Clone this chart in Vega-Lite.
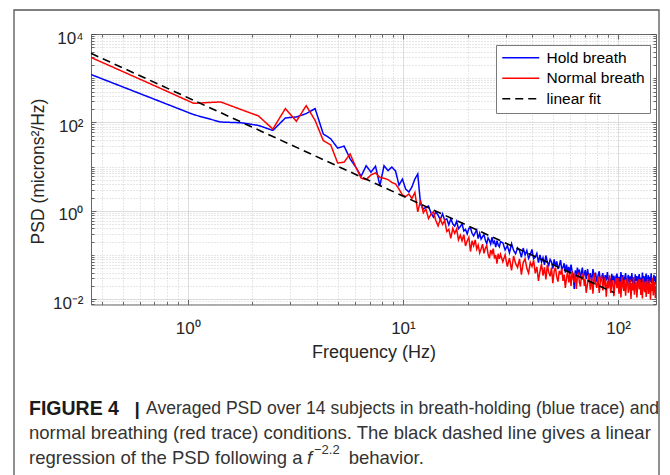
{
  "$schema": "https://vega.github.io/schema/vega-lite/v6.json",
  "width": 565,
  "height": 270.5,
  "autosize": {"type": "none"},
  "padding": {"left": 91, "top": 34, "right": 14, "bottom": 170.5},
  "background": "white",
  "config": {
    "view": {"stroke": null},
    "font": "Liberation Sans",
    "legend": {
      "orient": "none", "legendX": 405, "legendY": 11,
      "strokeColor": "#7a7a7a", "fillColor": "white", "padding": 5,
      "labelFont": "Liberation Sans", "labelFontSize": 15.5, "labelColor": "#000000",
      "symbolType": "M-3.7,0H3.7", "symbolSize": 100, "symbolStrokeWidth": 1.5,
      "symbolOffset": 12, "labelOffset": 18, "rowPadding": 3.5
    }
  },
  "data": {"values": [
    {"f":0.3553,"h":1213,"n":2950},{"f":0.7106,"h":325,"n":658},{"f":1.066,"h":150,"n":270},{"f":1.421,"h":102,"n":291},
    {"f":1.777,"h":98,"n":194},{"f":2.132,"h":85.5,"n":140},{"f":2.487,"h":65.8,"n":70.8},{"f":2.842,"h":126,"n":205},
    {"f":3.198,"h":133,"n":106},{"f":3.553,"h":158,"n":240},{"f":3.908,"h":205,"n":111},{"f":4.264,"h":55,"n":39},
    {"f":4.619,"h":42.6,"n":31},{"f":4.974,"h":26.2,"n":12.1},{"f":5.33,"h":29.1,"n":12.6},{"f":5.685,"h":15,"n":19.4},
    {"f":6.04,"h":9.7,"n":9.8},{"f":6.395,"h":6.05,"n":5.5},{"f":6.75,"h":10.5,"n":5.07},{"f":7.106,"h":7.5,"n":6.5},
    {"f":7.46,"h":10.2,"n":7.2},{"f":7.82,"h":3.7,"n":5.7},{"f":8.17,"h":10.5,"n":5.45},{"f":8.53,"h":8.1,"n":5.07},
    {"f":8.88,"h":9.8,"n":4.4},{"f":9.24,"h":8,"n":4.05},{"f":9.59,"h":3.8,"n":3.1},{"f":9.95,"h":5.2,"n":2.27},
    {"f":10.3,"h":3.1,"n":2.1},{"f":10.66,"h":2.66,"n":2.4},{"f":11.01,"h":3.46,"n":1.9},{"f":11.37,"h":5.25,"n":2.6},
    {"f":11.72,"h":6.8,"n":0.95},{"f":12.08,"h":1.42,"n":1.71},
    {"f":12.44,"h":1.1,"n":0.9},{"f":12.79,"h":1.21,"n":1.1},{"f":13.15,"h":1.28,"n":0.67},{"f":13.5,"h":0.9,"n":0.84},
    {"f":13.86,"h":0.72,"n":0.95},{"f":14.21,"h":0.94,"n":0.61},{"f":14.57,"h":0.8,"n":0.455},{"f":14.92,"h":0.63,"n":0.65},
    {"f":15.28,"h":0.86,"n":0.49},{"f":15.63,"h":0.62,"n":0.61},{"f":15.99,"h":0.66,"n":0.34},{"f":16.34,"h":0.48,"n":0.38},
    {"f":16.7,"h":0.66,"n":0.24},{"f":17.05,"h":0.51,"n":0.4},{"f":17.41,"h":0.45,"n":0.31},{"f":17.77,"h":0.58,"n":0.39},
    {"f":18.12,"h":0.39,"n":0.22},{"f":18.48,"h":0.44,"n":0.28},{"f":18.83,"h":0.51,"n":0.21},{"f":19.19,"h":0.35,"n":0.29},
    {"f":19.54,"h":0.38,"n":0.16},{"f":19.9,"h":0.3,"n":0.21},{"f":20.25,"h":0.4,"n":0.25},{"f":20.61,"h":0.41,"n":0.12},
    {"f":20.96,"h":0.31,"n":0.21},{"f":21.32,"h":0.27,"n":0.162},{"f":21.67,"h":0.32,"n":0.22},{"f":22.03,"h":0.37,"n":0.136},
    {"f":22.38,"h":0.235,"n":0.168},{"f":22.74,"h":0.31,"n":0.112},{"f":23.09,"h":0.23,"n":0.138},{"f":23.45,"h":0.26,"n":0.176},
    {"f":23.81,"h":0.29,"n":0.109},{"f":24.16,"h":0.216,"n":0.142},{"f":24.52,"h":0.182,"n":0.163},{"f":24.87,"h":0.244,"n":0.106},
    {"f":25.23,"h":0.215,"n":0.084},{"f":25.58,"h":0.177,"n":0.13},{"f":25.94,"h":0.252,"n":0.106},{"f":26.29,"h":0.186,"n":0.14},
    {"f":26.65,"h":0.205,"n":0.083},{"f":27,"h":0.152,"n":0.1},{"f":27.36,"h":0.212,"n":0.064},{"f":27.71,"h":0.17,"n":0.107},
    {"f":28.07,"h":0.153,"n":0.082},{"f":28.42,"h":0.2,"n":0.104},
    {"f":29.13,"h":0.19,"n":0.0705},{"f":29.85,"h":0.13,"n":0.101},{"f":30.56,"h":0.163,"n":0.055},{"f":31.27,"h":0.112,"n":0.085},
    {"f":31.98,"h":0.18,"n":0.045},{"f":32.69,"h":0.127,"n":0.095},{"f":33.4,"h":0.107,"n":0.064},{"f":34.11,"h":0.145,"n":0.052},
    {"f":34.82,"h":0.128,"n":0.082},{"f":35.53,"h":0.089,"n":0.036},{"f":36.24,"h":0.144,"n":0.068},{"f":36.95,"h":0.1,"n":0.082},
    {"f":37.66,"h":0.127,"n":0.05},{"f":38.37,"h":0.084,"n":0.039},{"f":39.08,"h":0.102,"n":0.068},{"f":39.79,"h":0.134,"n":0.055},
    {"f":40.5,"h":0.082,"n":0.076},{"f":41.21,"h":0.089,"n":0.0385},{"f":41.92,"h":0.109,"n":0.054},{"f":42.64,"h":0.067,"n":0.026},
    {"f":43.35,"h":0.101,"n":0.043},{"f":44.06,"h":0.069,"n":0.0625},{"f":44.77,"h":0.087,"n":0.034},{"f":45.48,"h":0.06,"n":0.053},
    {"f":46.19,"h":0.0975,"n":0.028},{"f":46.9,"h":0.069,"n":0.06},{"f":47.61,"h":0.058,"n":0.0405},{"f":48.32,"h":0.079,"n":0.033},
    {"f":49.03,"h":0.07,"n":0.052},{"f":49.74,"h":0.049,"n":0.023},{"f":50.45,"h":0.08,"n":0.043},{"f":51.16,"h":0.056,"n":0.052},
    {"f":51.87,"h":0.072,"n":0.032},{"f":52.58,"h":0.048,"n":0.025},{"f":53.3,"h":0.058,"n":0.044},{"f":54.01,"h":0.077,"n":0.036},
    {"f":54.72,"h":0.048,"n":0.05},{"f":55.43,"h":0.052,"n":0.026},{"f":56.14,"h":0.065,"n":0.036},{"f":56.85,"h":0.04,"n":0.018},
    {"f":57.56,"h":0.061,"n":0.03},{"f":58.27,"h":0.0425,"n":0.0435},{"f":58.98,"h":0.054,"n":0.024},{"f":59.69,"h":0.0375,"n":0.037},
    {"f":60.4,"h":0.061,"n":0.02},{"f":61.11,"h":0.0437,"n":0.0428},{"f":61.82,"h":0.037,"n":0.029},{"f":62.53,"h":0.017,"n":0.024},
    {"f":63.24,"h":0.045,"n":0.038},{"f":63.95,"h":0.0315,"n":0.017},{"f":64.66,"h":0.052,"n":0.032},{"f":65.38,"h":0.037,"n":0.04},
    {"f":66.09,"h":0.047,"n":0.024},{"f":66.8,"h":0.031,"n":0.0194},{"f":67.51,"h":0.0387,"n":0.034},{"f":68.22,"h":0.052,"n":0.0277},
    {"f":68.93,"h":0.0327,"n":0.039},{"f":69.64,"h":0.0366,"n":0.02},{"f":70.35,"h":0.0456,"n":0.0284},{"f":71.06,"h":0.0285,"n":0.014},
    {"f":72.13,"h":0.048,"n":0.0224},{"f":73.19,"h":0.029,"n":0.0374},{"f":74.26,"h":0.039,"n":0.0164},{"f":75.32,"h":0.025,"n":0.0312},
    {"f":76.39,"h":0.048,"n":0.0134},{"f":77.46,"h":0.031,"n":0.0384},{"f":78.52,"h":0.04,"n":0.0236},{"f":79.59,"h":0.025,"n":0.0181},
    {"f":80.65,"h":0.034,"n":0.032},{"f":81.72,"h":0.043,"n":0.0139},{"f":82.78,"h":0.025,"n":0.0263},{"f":83.85,"h":0.03,"n":0.0346},
    {"f":84.92,"h":0.039,"n":0.0159},{"f":85.98,"h":0.0215,"n":0.0206},{"f":87.05,"h":0.035,"n":0.0312},{"f":88.11,"h":0.0265,"n":0.0114},
    {"f":89.18,"h":0.041,"n":0.026},{"f":90.25,"h":0.0244,"n":0.0176},{"f":91.31,"h":0.0295,"n":0.0348},{"f":92.38,"h":0.02,"n":0.0138},
    {"f":93.44,"h":0.0375,"n":0.0218},{"f":94.51,"h":0.0267,"n":0.027},{"f":95.58,"h":0.034,"n":0.0117},{"f":96.64,"h":0.022,"n":0.0224},
    {"f":97.71,"h":0.032,"n":0.0302},{"f":98.77,"h":0.038,"n":0.0178},{"f":99.84,"h":0.023,"n":0.0301},{"f":100.91,"h":0.032,"n":0.0133},
    {"f":101.97,"h":0.021,"n":0.0255},{"f":103.04,"h":0.041,"n":0.011},{"f":104.1,"h":0.026,"n":0.032},{"f":105.17,"h":0.035,"n":0.0198},
    {"f":106.23,"h":0.022,"n":0.0154},{"f":107.3,"h":0.0305,"n":0.0275},{"f":108.37,"h":0.039,"n":0.012},{"f":109.43,"h":0.0226,"n":0.023},
    {"f":110.5,"h":0.027,"n":0.0301},{"f":111.56,"h":0.0356,"n":0.014},{"f":112.63,"h":0.02,"n":0.0182},{"f":113.7,"h":0.0328,"n":0.0278},
    {"f":114.76,"h":0.025,"n":0.0102},{"f":115.83,"h":0.039,"n":0.0234},{"f":116.89,"h":0.0234,"n":0.0159},{"f":117.96,"h":0.0285,"n":0.0318},
    {"f":119.03,"h":0.0194,"n":0.0127},{"f":120.09,"h":0.0365,"n":0.02},{"f":121.16,"h":0.026,"n":0.0252},{"f":122.22,"h":0.0336,"n":0.0109},
    {"f":123.29,"h":0.0217,"n":0.021},{"f":124.36,"h":0.031,"n":0.0282},{"f":125.42,"h":0.037,"n":0.0167},{"f":126.49,"h":0.0228,"n":0.0281},
    {"f":127.55,"h":0.031,"n":0.0125},{"f":128.62,"h":0.0205,"n":0.0238},{"f":129.68,"h":0.04,"n":0.0104},{"f":130.75,"h":0.025,"n":0.0299},
    {"f":131.82,"h":0.0336,"n":0.0185},{"f":132.88,"h":0.021,"n":0.0144},{"f":133.95,"h":0.0294,"n":0.0256},{"f":135.01,"h":0.038,"n":0.0112},
    {"f":136.08,"h":0.0218,"n":0.0214},{"f":137.15,"h":0.0266,"n":0.0284},{"f":138.21,"h":0.035,"n":0.0132},{"f":139.28,"h":0.0196,"n":0.0173},
    {"f":140.34,"h":0.032,"n":0.0264},{"f":141.41,"h":0.0246,"n":0.0097},{"f":142.48,"h":0.0386,"n":0.0223},{"f":143.54,"h":0.023,"n":0.0152},
    {"f":144.61,"h":0.028,"n":0.0305},{"f":145.67,"h":0.019,"n":0.0122},{"f":146.74,"h":0.0358,"n":0.0193},{"f":147.8,"h":0.0258,"n":0.0244},
    {"f":148.87,"h":0.033,"n":0.0106},{"f":149.94,"h":0.0213,"n":0.0203}
  ]},
  "resolve": {"axis": {"x": "independent", "y": "independent"}},
  "layer": [
    {
      "data": {"values": [{}]},
      "mark": {"type": "rect", "x": -77, "x2": 568, "y": -24, "y2": 460, "filled": false, "stroke": "#555555", "strokeWidth": 1.3}
    },
    {
      "mark": {"type": "line", "strokeWidth": 1.5, "clip": true},
      "encoding": {
        "x": {"field": "f", "type": "quantitative",
          "scale": {"type": "log", "domain": [0.3553, 150], "nice": false, "zero": false},
          "axis": {
            "orient": "bottom",
            "values": [0.4,0.5,0.6,0.7,0.8,0.9,1,2,3,4,5,6,7,8,9,10,20,30,40,50,60,70,80,90,100],
            "labelExpr": "datum.value == 1 ? '10⁰' : datum.value == 10 ? '10¹' : datum.value == 100 ? '10²' : ''",
            "labelFontSize": 17, "labelColor": "#262626", "labelPadding": 21, "labelOverlap": false, "labelBound": false, "labelFlush": false,
            "tickSize": {"condition": {"test": "datum.value == 1 || datum.value == 10 || datum.value == 100", "value": -5}, "value": -3},
            "tickColor": "#444444", "tickWidth": 0.8,
            "grid": true,
            "gridColor": {"condition": {"test": "datum.value == 1 || datum.value == 10 || datum.value == 100", "value": "#d4d4d4"}, "value": "#c2c2c2"},
            "gridDash": {"condition": {"test": "datum.value == 1 || datum.value == 10 || datum.value == 100", "value": []}, "value": [1, 2]},
            "gridWidth": 0.8,
            "domain": true, "domainColor": "#666666", "domainWidth": 1,
            "title": "Frequency (Hz)", "titleFontSize": 18, "titleFontWeight": "normal", "titleColor": "#262626",
            "titleY": 48, "titleBaseline": "middle"
          }
        },
        "y": {"field": "h", "type": "quantitative",
          "scale": {"type": "log", "domain": [0.0076, 10000], "nice": false, "zero": false},
          "axis": {
            "orient": "left",
            "values": [0.008,0.009,0.01,0.02,0.03,0.04,0.05,0.06,0.07,0.08,0.09,0.1,0.2,0.3,0.4,0.5,0.6,0.7,0.8,0.9,1,2,3,4,5,6,7,8,9,10,20,30,40,50,60,70,80,90,100,200,300,400,500,600,700,800,900,1000,2000,3000,4000,5000,6000,7000,8000,9000,10000],
            "labelExpr": "datum.value == 10000 ? '10⁴' : datum.value == 100 ? '10²' : datum.value == 1 ? '10⁰' : datum.value == 0.01 ? '10⁻²' : ''",
            "labelFontSize": 17, "labelColor": "#262626", "labelPadding": 13, "labelOffset": 4, "labelOverlap": false, "labelBound": false, "labelFlush": false,
            "tickSize": {"condition": {"test": "datum.value == 0.01 || datum.value == 1 || datum.value == 100 || datum.value == 10000", "value": -5}, "value": -3},
            "tickColor": "#444444", "tickWidth": 0.8,
            "grid": true,
            "gridColor": {"condition": {"test": "datum.value == 0.01 || datum.value == 1 || datum.value == 100 || datum.value == 10000", "value": "#d4d4d4"}, "value": "#c2c2c2"},
            "gridDash": {"condition": {"test": "datum.value == 0.01 || datum.value == 1 || datum.value == 100 || datum.value == 10000", "value": []}, "value": [1, 2]},
            "gridWidth": 0.8,
            "domain": true, "domainColor": "#666666", "domainWidth": 1,
            "title": "PSD (microns²/Hz)", "titleFontSize": 17.5, "titleFontWeight": "normal", "titleColor": "#262626",
            "titleX": -53, "titleY": 137, "titleAngle": -90, "titleBaseline": "middle", "titleAlign": "center"
          }
        },
        "color": {"datum": "Hold breath", "type": "nominal",
          "scale": {"domain": ["Hold breath", "Normal breath", "linear fit"], "range": ["#0000ff", "#ff0000", "#000000"]},
          "legend": {"title": null}},
        "strokeDash": {"datum": "Hold breath", "type": "nominal",
          "scale": {"domain": ["Hold breath", "Normal breath", "linear fit"], "range": [[1, 0], [1, 0], [8, 5]]},
          "legend": {"title": null}}
      }
    },
    {
      "mark": {"type": "line", "strokeWidth": 1.5, "clip": true},
      "encoding": {
        "x": {"field": "f", "type": "quantitative",
          "axis": {
            "orient": "top",
            "values": [0.4,0.5,0.6,0.7,0.8,0.9,1,2,3,4,5,6,7,8,9,10,20,30,40,50,60,70,80,90,100],
            "labels": false, "grid": false,
            "tickSize": {"condition": {"test": "datum.value == 1 || datum.value == 10 || datum.value == 100", "value": -5}, "value": -3},
            "tickColor": "#444444", "tickWidth": 0.8,
            "domain": true, "domainColor": "#666666", "domainWidth": 1, "title": null
          }
        },
        "y": {"field": "n", "type": "quantitative",
          "axis": {
            "orient": "right",
            "values": [0.008,0.009,0.01,0.02,0.03,0.04,0.05,0.06,0.07,0.08,0.09,0.1,0.2,0.3,0.4,0.5,0.6,0.7,0.8,0.9,1,2,3,4,5,6,7,8,9,10,20,30,40,50,60,70,80,90,100,200,300,400,500,600,700,800,900,1000,2000,3000,4000,5000,6000,7000,8000,9000,10000],
            "labels": false, "grid": false,
            "tickSize": {"condition": {"test": "datum.value == 0.01 || datum.value == 1 || datum.value == 100 || datum.value == 10000", "value": -5}, "value": -3},
            "tickColor": "#444444", "tickWidth": 0.8,
            "domain": true, "domainColor": "#666666", "domainWidth": 1, "title": null
          }
        },
        "color": {"datum": "Normal breath", "type": "nominal"},
        "strokeDash": {"datum": "Normal breath", "type": "nominal"}
      }
    },
    {
      "data": {"values": [{"f": 0.3553, "v": 3650}, {"f": 96, "v": 0.014}]},
      "mark": {"type": "line", "strokeWidth": 1.6},
      "encoding": {
        "x": {"field": "f", "type": "quantitative", "axis": null},
        "y": {"field": "v", "type": "quantitative", "axis": null},
        "color": {"datum": "linear fit", "type": "nominal"},
        "strokeDash": {"datum": "linear fit", "type": "nominal"}
      }
    },
    {
      "data": {"values": [{}]},
      "mark": {"type": "text", "text": "FIGURE 4", "x": -62, "y": 374.5, "align": "left", "baseline": "middle", "fontSize": 19.5, "fontWeight": "bold", "font": "Liberation Sans", "color": "#1a1a1a"}
    },
    {
      "data": {"values": [{}]},
      "mark": {"type": "text", "text": "|", "x": 43.5, "y": 374.5, "align": "left", "baseline": "middle", "fontSize": 19, "fontWeight": "bold", "font": "Liberation Sans", "color": "#1a1a1a"}
    },
    {
      "data": {"values": [{}]},
      "mark": {"type": "text", "text": "Averaged PSD over 14 subjects in breath-holding (blue trace) and", "x": 55, "y": 374.5, "align": "left", "baseline": "middle", "fontSize": 17.6, "font": "Liberation Sans", "color": "#333333"}
    },
    {
      "data": {"values": [{}]},
      "mark": {"type": "text", "text": "normal breathing (red trace) conditions. The black dashed line gives a linear", "x": -62, "y": 399, "align": "left", "baseline": "middle", "fontSize": 18.5, "font": "Liberation Sans", "color": "#333333"}
    },
    {
      "data": {"values": [{}]},
      "mark": {"type": "text", "text": "regression of the PSD following a", "x": -62, "y": 423.7, "align": "left", "baseline": "middle", "fontSize": 18.5, "font": "Liberation Sans", "color": "#333333"}
    },
    {
      "data": {"values": [{}]},
      "mark": {"type": "text", "text": "f", "x": 216, "y": 423.7, "align": "left", "baseline": "middle", "fontSize": 18.5, "fontStyle": "italic", "font": "Liberation Sans", "color": "#333333"}
    },
    {
      "data": {"values": [{}]},
      "mark": {"type": "text", "text": "−2.2", "x": 223, "y": 416, "align": "left", "baseline": "middle", "fontSize": 13, "font": "Liberation Sans", "color": "#333333"}
    },
    {
      "data": {"values": [{}]},
      "mark": {"type": "text", "text": "behavior.", "x": 257.7, "y": 423.7, "align": "left", "baseline": "middle", "fontSize": 18.5, "font": "Liberation Sans", "color": "#333333"}
    }
  ]
}
